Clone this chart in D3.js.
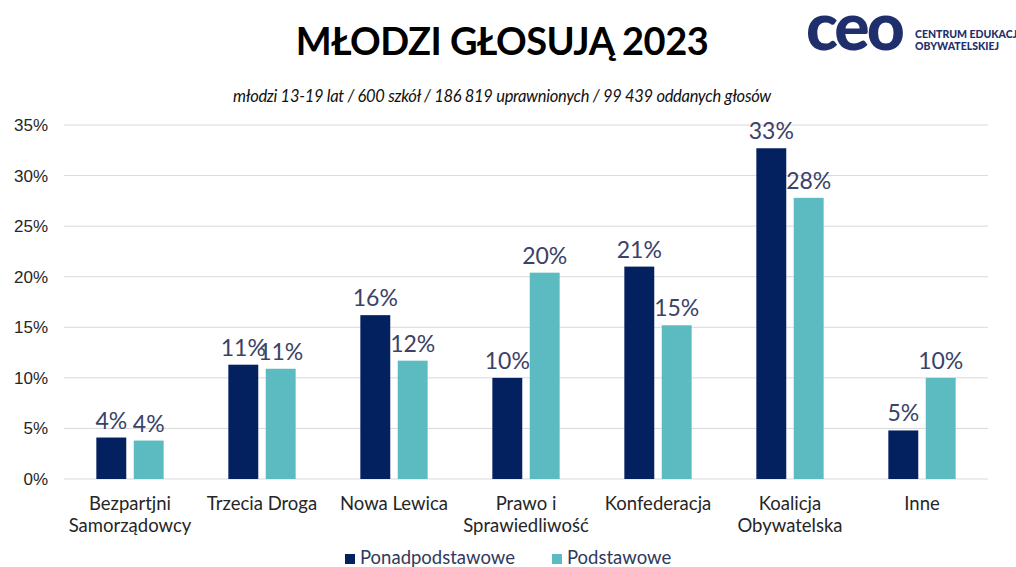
<!DOCTYPE html>
<html>
<head>
<meta charset="utf-8">
<script src="https://cdn.jsdelivr.net/npm/d3@7"></script>
<style>
  html, body { margin: 0; padding: 0; background: #fff; }
  svg { display: block; }
</style>
</head>
<body>
<svg id="chart" width="1016" height="567"></svg>
<script>
// data
const categories = [
  ["Bezpartjni", "Samorządowcy"],
  ["Trzecia Droga"],
  ["Nowa Lewica"],
  ["Prawo i", "Sprawiedliwość"],
  ["Konfederacja"],
  ["Koalicja", "Obywatelska"],
  ["Inne"]
]
const seriesNames = ["Ponadpodstawowe", "Podstawowe"]
const ponadpodstawowe = [4.1, 11.3, 16.2, 10.0, 21.0, 32.7, 4.8]
const podstawowe = [3.8, 10.9, 11.7, 20.4, 15.2, 27.8, 10.0]
const yTicks = [0, 5, 10, 15, 20, 25, 30, 35]
const colors = ["#03205f", "#5cbbc0"]

const margin = {top: 125, right: 28, bottom: 88, left: 64},
    width = 1016 - margin.left - margin.right,
    height = 567 - margin.top - margin.bottom

const svg = d3.select("#chart")

// title + subtitle
svg.append("text")
    .attr("x", 502).attr("y", 55)
    .attr("text-anchor", "middle")
    .style("font-family", "Lato")
    .style("font-weight", 700)
    .style("font-size", "38px")
    .style("letter-spacing", "-0.5px")
    .attr("fill", "#000")
    .text("MŁODZI GŁOSUJĄ 2023")

svg.append("text")
    .attr("x", 502).attr("y", 102)
    .attr("text-anchor", "middle")
    .style("font-family", "Lato")
    .style("font-style", "italic")
    .style("font-size", "16.5px")
    .style("letter-spacing", "-0.3px")
    .attr("fill", "#111")
    .text("młodzi 13-19 lat / 600 szkół / 186 819 uprawnionych / 99 439 oddanych głosów")

// logo
const logo = svg.append("g")
logo.append("text")
    .attr("x", 806).attr("y", 50)
    .style("font-family", "Lato")
    .style("font-weight", 900)
    .style("font-size", "66px")
    .style("letter-spacing", "-3px")
    .attr("fill", "#1f2f6b")
    .text("ceo")
logo.selectAll(".lt")
    .data(["CENTRUM EDUKACJI", "OBYWATELSKIEJ"])
    .join("text")
    .attr("x", 915)
    .attr("y", (d, i) => 38 + i * 12)
    .style("font-family", "Lato")
    .style("font-weight", 900)
    .style("font-size", "10.5px")
    .attr("fill", "#1f2f6b")
    .text(d => d)

const g = svg.append("g")
    .attr("transform", "translate(" + margin.left + "," + margin.top + ")")

const x0 = d3.scaleBand()
    .domain(d3.range(categories.length))
    .range([0, width])
    .paddingInner(0.49)
    .paddingOuter(0.245)

const x1 = d3.scaleBand()
    .domain(seriesNames)
    .range([0, x0.bandwidth()])
    .paddingInner(0.2)

const y = d3.scaleLinear().domain([0, 35]).range([height, 0])

// gridlines
g.append("g")
    .selectAll("line")
    .data(yTicks)
    .join("line")
    .attr("x1", 0).attr("x2", width)
    .attr("y1", d => y(d)).attr("y2", d => y(d))
    .attr("stroke", "#d9d9d9")
    .attr("stroke-width", 1)

// y axis
const yAxis = d3.axisLeft(y).tickValues(yTicks).tickSize(0).tickPadding(16)
    .tickFormat(d => d + "%")
const gY = g.append("g").call(yAxis)
gY.select(".domain").remove()
gY.selectAll("text")
    .style("font-family", "Liberation Sans, Arial")
    .style("font-size", "17px")
    .attr("fill", "#262626")

const seriesData = [ponadpodstawowe, podstawowe]

const groups = g.selectAll(".grp")
    .data(categories.map((c, i) => i))
    .join("g")
    .attr("class", "grp")
    .attr("transform", d => "translate(" + x0(d) + ",0)")

groups.selectAll("rect")
    .data(i => seriesNames.map((s, k) => ({s: s, k: k, v: seriesData[k][i]})))
    .join("rect")
    .attr("x", d => x1(d.s))
    .attr("width", x1.bandwidth())
    .attr("y", d => y(d.v))
    .attr("height", d => height - y(d.v))
    .attr("fill", d => colors[d.k])

groups.selectAll(".lbl")
    .data(i => seriesNames.map((s, k) => ({s: s, k: k, v: seriesData[k][i]})))
    .join("text")
    .attr("class", "lbl")
    .attr("x", d => x1(d.s) + x1.bandwidth() / 2)
    .attr("y", d => y(d.v) - 9)
    .attr("text-anchor", "middle")
    .style("font-family", "Lato")
    .style("font-size", "23px")
    .attr("fill", "#3a4268")
    .text(d => Math.round(d.v) + "%")

// category labels
const xLabels = g.append("g")
    .selectAll("text")
    .data(categories)
    .join("text")
    .attr("x", (d, i) => x0(i) + x0.bandwidth() / 2)
    .attr("y", height + 31)
    .attr("text-anchor", "middle")
    .style("font-family", "Lato")
    .style("font-size", "18.5px")
    .attr("fill", "#262626")
xLabels.selectAll("tspan")
    .data(d => d)
    .join("tspan")
    .attr("x", function () { return this.parentNode.getAttribute("x") })
    .attr("dy", (d, i) => i ? 22 : 0)
    .text(d => d)

// legend
const legend = svg.append("g")
    .attr("transform", "translate(345,554)")
const lx = [0, 207]
const items = legend.selectAll("g")
    .data(seriesNames)
    .join("g")
    .attr("transform", (d, i) => "translate(" + lx[i] + ",0)")
items.append("rect")
    .attr("width", 10).attr("height", 10)
    .attr("fill", (d, i) => colors[i])
items.append("text")
    .attr("x", 15).attr("y", 10)
    .style("font-family", "Lato")
    .style("font-size", "18.5px")
    .attr("fill", "#2f3a5c")
    .text(d => d)
</script>
</body>
</html>
